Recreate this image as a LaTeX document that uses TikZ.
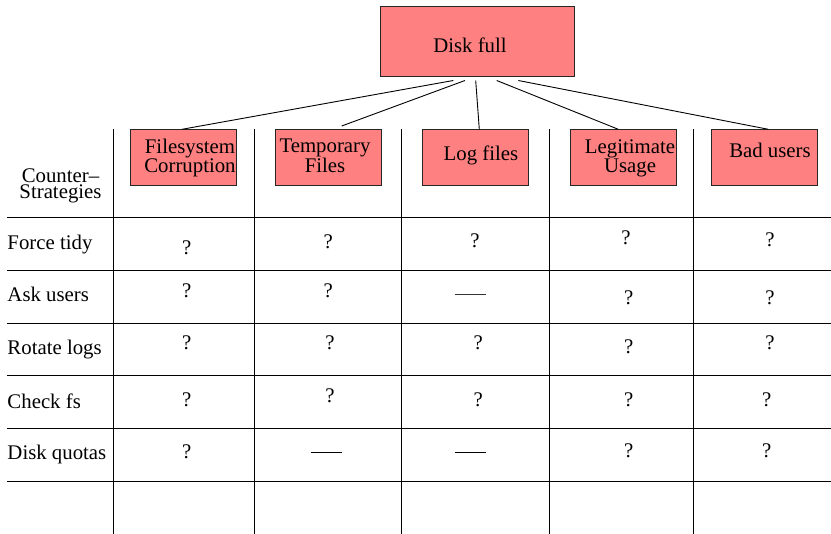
\documentclass[tikz,border=0pt]{standalone}
\usepackage{fontspec}
\setmainfont{Liberation Serif}
\newfontfamily\diagserif{Liberation Serif}
\definecolor{boxred}{RGB}{255,128,128}
\newcommand\diagfont{\diagserif\fontsize{20.8}{17.5}\selectfont}
\begin{document}
\begin{tikzpicture}[x=1pt,y=-1pt,
  gridline/.style={line width=0.9pt},
  link/.style={line width=0.9pt},
  cause/.style={draw=black!85, fill=boxred, line width=0.8pt, inner sep=0pt,
    minimum width=106pt, minimum height=56.4pt},
  txt/.style={font=\diagfont, inner sep=0pt, align=center},
  qm/.style={font=\diagfont, inner sep=0pt},
  nada/.style={inner sep=0pt}
]
\useasboundingbox (0,0) rectangle (831,534);

% grid
\foreach \x/\n in {113.3/v1,254/v2,401.3/v3,549/v4,693.5/v5}{
  \coordinate (\n t) at (\x,129.5);
  \coordinate (\n b) at (\x,534);
  \draw[gridline] (\n t) -- (\n b);
}
\foreach \y/\n in {217.3/h0,270.3/h1,323/h2,375.7/h3,428.7/h4,481/h5}{
  \coordinate (\n l) at (7.3,\y);
  \coordinate (\n r) at (831,\y);
  \draw[gridline] (\n l) -- (\n r);
}

% top box
\node[cause, minimum width=194pt, minimum height=70.7pt] (disk) at (477,41.4) {};
\node[txt, anchor=base] (disktxt) at (470,52.3) {Disk full};

% cause boxes
\node[cause] (fs)  at (183.5,157.5) {};
\node[cause] (tmp) at (327.9,157.5) {};
\node[cause] (log) at (475.3,157.5) {};
\node[cause] (leg) at (623.2,157.5) {};
\node[cause] (bad) at (763.9,157.5) {};

\node[txt] (fstxt)  at (190,158.2) {Filesystem\\Corruption};
\node[txt, font=\diagserif\fontsize{20.8}{20}\selectfont] (tmptxt) at (325,155.6) {Temporary\\Files};
\node[txt, anchor=base] (logtxt) at (481,160.7) {Log files};
\node[txt] (legtxt) at (630,158) {Legitimate\\Usage};
\node[txt, anchor=base] (badtxt) at (770,157.3) {Bad users};

% connectors
\coordinate (s1) at (453.3,80.5); \coordinate (e1) at (182,129.3);
\coordinate (s2) at (465,80.5);   \coordinate (e2) at (341.7,126);
\coordinate (s3) at (475.7,80.5); \coordinate (e3) at (479.3,129.3);
\coordinate (s4) at (496.7,80.5); \coordinate (e4) at (618.3,129.3);
\coordinate (s5) at (518.3,80.5); \coordinate (e5) at (768.3,129.3);
\foreach \i in {1,...,5}{ \draw[link] (s\i) -- (e\i); }

% row header
\node[txt, font=\diagserif\fontsize{20.8}{15.5}\selectfont] (cs) at (60.5,186) {Counter–\\Strategies};
\node[txt, anchor=base west] (r1) at (7.3,249.3) {Force tidy};
\node[txt, anchor=base west] (r2) at (7.3,301.7) {Ask users};
\node[txt, anchor=base west] (r3) at (7.3,355) {Rotate logs};
\node[txt, anchor=base west] (r4) at (7.3,408.3) {Check fs};
\node[txt, anchor=base west] (r5) at (7.3,460) {Disk quotas};

% cells
\node[qm] (q11) at (186.7,247.3) {?};
\node[qm] (q12) at (328.3,241.7) {?};
\node[qm] (q13) at (475,241) {?};
\node[qm] (q14) at (626,237.7) {?};
\node[qm] (q15) at (770,240) {?};

\node[qm] (q21) at (186.7,291) {?};
\node[qm] (q22) at (328.3,291) {?};
\node[nada] (q23) at (470,294.3) {\color{black!80}\rule{31pt}{0.9pt}};
\node[qm] (q24) at (628.7,297.3) {?};
\node[qm] (q25) at (770,297.3) {?};

\node[qm] (q31) at (186.7,342.7) {?};
\node[qm] (q32) at (330,342.7) {?};
\node[qm] (q33) at (478.3,342.7) {?};
\node[qm] (q34) at (628.7,346.7) {?};
\node[qm] (q35) at (770,342.7) {?};

\node[qm] (q41) at (186.7,400) {?};
\node[qm] (q42) at (330,395.7) {?};
\node[qm] (q43) at (478.3,399.3) {?};
\node[qm] (q44) at (628.7,399.3) {?};
\node[qm] (q45) at (766.7,399.3) {?};

\node[qm] (q51) at (186.7,451.7) {?};
\node[nada] (q52) at (326,452.7) {\rule{31pt}{0.9pt}};
\node[nada] (q53) at (470,452.7) {\rule{31pt}{0.9pt}};
\node[qm] (q54) at (628.7,450.7) {?};
\node[qm] (q55) at (766.7,450.7) {?};
\end{tikzpicture}
\end{document}
